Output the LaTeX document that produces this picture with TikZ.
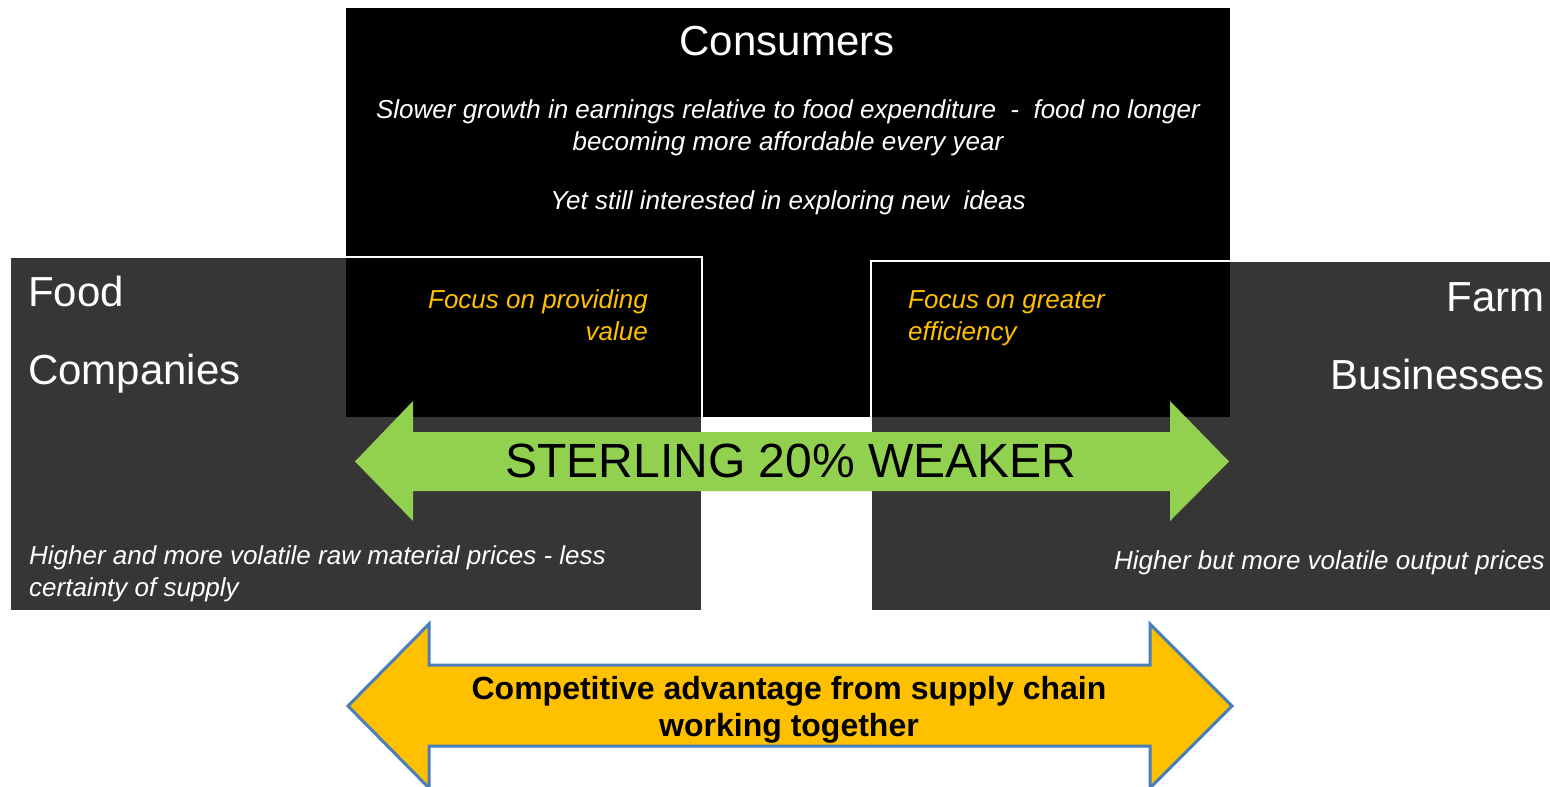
\documentclass[tikz,border=0pt]{standalone}
\usepackage{fontspec}
\setmainfont{Liberation Sans}
\definecolor{leafgreen}{HTML}{92D050}
\definecolor{amber}{HTML}{FFC000}
\definecolor{steelrim}{HTML}{4A7EBB}
\begin{document}
\begin{tikzpicture}[x=1pt, y=-1pt,
    panel/.style={rectangle, inner sep=0pt},
    consumerbox/.style={panel, fill=black},
    sectorbox/.style={panel, fill=black, fill opacity=0.79, draw=white, line width=1.5pt},
    heading/.style={inner sep=0pt, text=white, font=\fontsize{42}{78}\selectfont},
    remark/.style={inner sep=0pt, text=white, font=\fontsize{26}{32}\selectfont\itshape},
    focus/.style={remark, text=amber}
  ]
  \useasboundingbox (0,0) rectangle (1550,787);

  % Consumers box and the two sector boxes over it
  \node[consumerbox, minimum width=884, minimum height=409] (consumers) at (788,212.5) {};
  \node[sectorbox, minimum width=692, minimum height=354] (food) at (356,434) {};
  \node[sectorbox, minimum width=681, minimum height=350] (farm) at (1211.5,436) {};

  % Consumers texts
  \node[heading, font=\fontsize{42}{50}\selectfont] (consumertitle) at (787,41) {Consumers};
  \node[remark, align=center] (earnings) at (788,128) {
    Slower growth in earnings relative to food expenditure \ -\ \ food no longer \\
    becoming more affordable every year
  };
  \node[remark] (ideas) at (788,203) {Yet still interested in exploring new\ \ ideas};

  % Sector texts
  \node[heading, anchor=west, align=left] (foodtitle) at (28,335) {Food \\ Companies};
  \node[heading, anchor=east, align=right] (farmtitle) at (1545,336) {Farm \\ Businesses};
  \node[focus, anchor=east, align=right] (valuefocus) at (648,315) {Focus on providing \\ value};
  \node[focus, anchor=west, align=left] (efficiencyfocus) at (908,318) {Focus on greater \\ efficiency};
  \node[remark, anchor=west, align=left] (rawprices) at (29,574) {
    Higher and more volatile raw material prices - less \\
    certainty of supply
  };
  \node[remark, anchor=east] (outputprices) at (1545,563) {Higher but more volatile output prices};

  % Sterling arrow
  \fill[leafgreen] (355,461.5) -- (413,401) -- (413,432) -- (1170,432) -- (1170,401)
    -- (1229,461.5) -- (1170,521) -- (1170,491) -- (413,491) -- (413,521) -- cycle;
  \node[inner sep=0pt, font=\fontsize{48}{56}\selectfont] (sterling) at (791,461) {STERLING 20\% WEAKER};

  % Supply chain arrow
  \draw[steelrim, line width=3pt, fill=amber, line join=miter]
    (348,706) -- (429,624) -- (429,665) -- (1150,665) -- (1150,624)
    -- (1232,706) -- (1150,788) -- (1150,746) -- (429,746) -- (429,788) -- cycle;
  \node[inner sep=0pt, align=center, font=\fontsize{32}{37}\selectfont\bfseries] (advantage) at (789,710) {
    Competitive advantage from supply chain \\ working together
  };

  \end{tikzpicture}
\end{document}
